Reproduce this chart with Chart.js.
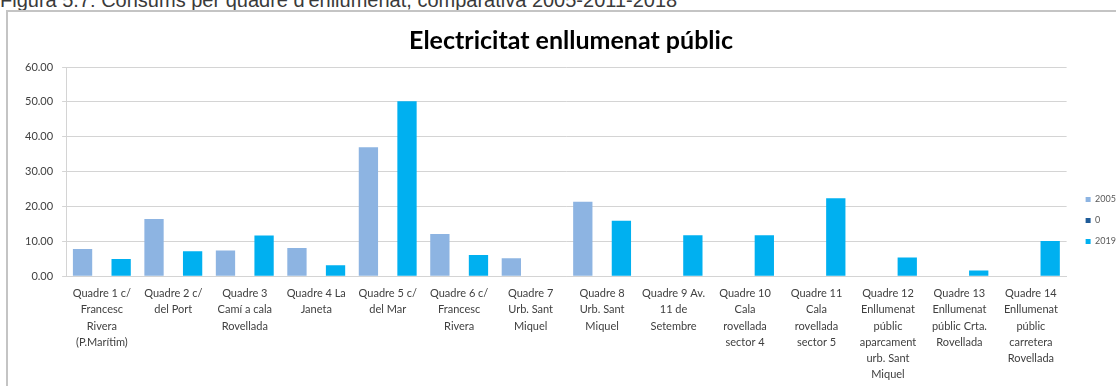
<!DOCTYPE html>
<html lang="ca">
<head>
<meta charset="utf-8">
<script src="https://cdn.jsdelivr.net/npm/chart.js@4/dist/chart.umd.min.js"></script>
<style>
  html, body { margin: 0; padding: 0; background: #fff; width: 1116px; height: 386px; overflow: hidden; }
  #caption {
    position: absolute; left: 0; top: -10px;
    font: 20px/20px "Liberation Sans", Arial, sans-serif; color: #3a3a3a;
    white-space: nowrap;
  }
  #frame {
    position: absolute; left: 6px; top: 10px; width: 1200px; height: 500px;
    border-left: 2px solid #c4c4c4; border-top: 2px solid #c4c4c4;
  }
  #chart { position: absolute; left: 0; top: 0; }
</style>
</head>
<body>
<div id="caption">Figura  5.7: Consums per quadre d'enllumenat, comparativa 2005-2011-2018</div>
<div id="frame"></div>
<canvas id="chart" width="1126" height="392"></canvas>
<script>
// Lighting panels (quadres), one label line per array entry
const categories = [
  ["Quadre 1 c/", "Francesc", "Rivera", "(P.Marítim)"],
  ["Quadre 2 c/", "del Port"],
  ["Quadre 3", "Camí a cala", "Rovellada"],
  ["Quadre 4 La", "Janeta"],
  ["Quadre 5 c/", "del Mar"],
  ["Quadre 6 c/", "Francesc", "Rivera"],
  ["Quadre 7", "Urb. Sant", "Miquel"],
  ["Quadre 8", "Urb. Sant", "Miquel"],
  ["Quadre 9 Av.", "11 de", "Setembre"],
  ["Quadre 10", "Cala", "rovellada", "sector 4"],
  ["Quadre 11", "Cala", "rovellada", "sector 5"],
  ["Quadre 12", "Enllumenat", "públic", "aparcament", "urb. Sant", "Miquel"],
  ["Quadre 13", "Enllumenat", "públic Crta.", "Rovellada"],
  ["Quadre 14", "Enllumenat", "públic", "carretera", "Rovellada"]
];

// Consumption per panel and series
const values2005 = [7.8, 16.4, 7.4, 8.1, 37.0, 12.1, 5.2, 21.4, 0, 0, 0, 0, 0, 0];
const values0    = [0, 0, 0, 0, 0, 0, 0, 0, 0, 0, 0, 0, 0, 0];
const values2019 = [5.0, 7.2, 11.7, 3.2, 50.2, 6.1, 0, 15.9, 11.8, 11.8, 22.4, 5.4, 1.7, 10.1];

const seriesNames = ["2005", "0", "2019"];
const yTicks = [0, 10, 20, 30, 40, 50, 60];

const chartTitle = "Electricitat enllumenat públic";

const FONT = "Lato, 'Liberation Sans', sans-serif";
const TEXT = "#404040";

new Chart(document.getElementById("chart"), {
  type: "bar",
  data: {
    labels: categories,
    datasets: [
      { label: seriesNames[0], data: values2005, backgroundColor: "#8DB4E2" },
      { label: seriesNames[1], data: values0,    backgroundColor: "#1F5C99" },
      { label: seriesNames[2], data: values2019, backgroundColor: "#00B0F0" }
    ]
  },
  options: {
    responsive: false,
    animation: false,
    devicePixelRatio: 1,
    layout: { padding: { left: 16, top: 19, right: 0, bottom: 0 } },
    datasets: { bar: { categoryPercentage: 0.81, barPercentage: 1.0, borderWidth: 0 } },
    plugins: {
      tooltip: { enabled: false },
      title: {
        display: true,
        text: chartTitle,
        color: "#000",
        font: { family: FONT, size: 25, weight: "bold", lineHeight: 1.2 },
        padding: { top: 7, bottom: 11 }
      },
      legend: {
        position: "right",
        title: { display: true, text: " ", padding: 0, font: { size: 25, lineHeight: 1.2 } },
        labels: {
          boxWidth: 5, boxHeight: 5, padding: 12,
          color: "#595959",
          font: { family: FONT, size: 9 }
        }
      }
    },
    scales: {
      x: {
        grid: { display: false, drawTicks: false },
        border: { display: true, color: "#d4d4d4" },
        ticks: {
          color: TEXT, autoSkip: false, maxRotation: 0, minRotation: 0, padding: 9,
          font: { family: FONT, size: 11, lineHeight: 1.48 }
        }
      },
      y: {
        min: 0, max: 60,
        afterBuildTicks: (axis) => { axis.ticks = yTicks.map(v => ({ value: v })); },
        grid: { color: "#d4d4d4", tickLength: 4 },
        border: { display: true, color: "#d4d4d4" },
        ticks: {
          color: TEXT, padding: 9,
          font: { family: FONT, size: 11 },
          callback: (v) => Number(v).toFixed(2)
        }
      },
      // empty right-hand axis: spacing between plot and legend
      gap: {
        type: "linear", position: "right", display: true,
        grid: { display: false }, border: { display: false },
        ticks: { display: false },
        afterFit: (axis) => { axis.width = 7; }
      }
    }
  }
});
</script>
</body>
</html>
